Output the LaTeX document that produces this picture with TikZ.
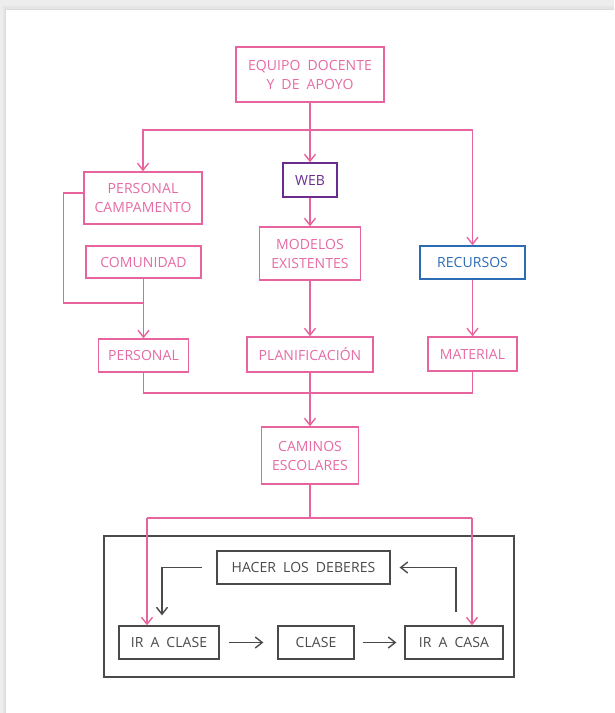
\documentclass[tikz,border=0pt]{standalone}
\usepackage{fontspec}
\setmainfont{Open Sans}[LetterSpace=0.5, WordSpace=1.9]
\usetikzlibrary{arrows.meta}
\definecolor{pk}{HTML}{E8649F}
\definecolor{pktext}{HTML}{E66BA5}
\definecolor{pu}{HTML}{6A2C8E}
\definecolor{bl}{HTML}{2B6CB5}
\definecolor{gr}{HTML}{4A4A4A}
\begin{document}
\begin{tikzpicture}[x=1pt,y=-1pt,
  every node/.style={inner sep=0pt, align=center, font=\fontsize{14}{19}\selectfont},
  pbox/.style={draw=pk, line width=1.4pt, text=pktext},
  wbox/.style={draw=pu, line width=1.4pt, text=pu},
  bbox/.style={draw=bl, line width=1.4pt, text=bl},
  gbox/.style={draw=gr, line width=1.3pt, text=gr},
  pline/.style={draw=pk, line width=1.4pt},
  parr/.style={pline, -{Straight Barb[length=7pt,width=11pt]}},
  garr/.style={draw=gr, line width=1.4pt, -{Straight Barb[length=7pt,width=11pt]}}
]
% background
\useasboundingbox (0,0) rectangle (614,713);
\fill[black!7] (0,0) rectangle (614,713);
\fill[black!10] (3,6) rectangle (614,713);
\fill[black!14] (5,9) rectangle (614,713);
\fill[white] (6,10) rectangle (614,713);

% nodes
\node[pbox, minimum width=148pt, minimum height=55pt] (eq) at (310,74.5) {EQUIPO DOCENTE\\Y DE APOYO};
\node[pbox, minimum width=118pt, minimum height=52pt] (pc) at (143,198) {PERSONAL\\CAMPAMENTO};
\node[pbox, minimum width=115pt, minimum height=32pt] (com) at (143.5,262) {COMUNIDAD};
\node[pbox, minimum width=90pt, minimum height=33pt] (per) at (143.5,355.5) {PERSONAL};
\node[wbox, minimum width=54pt, minimum height=34pt] (web) at (310,180) {WEB};
\node[pbox, minimum width=101pt, minimum height=53pt] (mod) at (310,253.5) {MODELOS\\EXISTENTES};
\node[pbox, minimum width=126pt, minimum height=35pt] (pla) at (310,354.5) {PLANIFICACIÓN};
\node[bbox, minimum width=105pt, minimum height=33pt] (rec) at (472.5,262.5) {RECURSOS};
\node[pbox, minimum width=89pt, minimum height=34pt] (mat) at (472.5,354) {MATERIAL};
\node[pbox, minimum width=97pt, minimum height=57pt] (cam) at (310,455.5) {CAMINOS\\ESCOLARES};

\draw[gr, line width=1.2pt] (104,536) rectangle (514,677);
\node[gbox, minimum width=173pt, minimum height=33pt] (hac) at (303.5,567.5) {HACER LOS DEBERES};
\node[gbox, minimum width=100pt, minimum height=33pt] (irc) at (169,642.5) {IR A CLASE};
\node[gbox, minimum width=76pt, minimum height=33pt] (cla) at (316,642.5) {CLASE};
\node[gbox, minimum width=98pt, minimum height=33pt] (ica) at (454,642.5) {IR A CASA};

% junctions
\coordinate (j1) at (310,130);
\coordinate (j2) at (143.5,303);
\coordinate (j3) at (310,393);
\coordinate (j4) at (310,518);
\coordinate (jl) at (147,518);
\coordinate (jr) at (472,518);

% pink connectors
\draw[pline] (eq.south) -- (j1);
\draw[parr] (j1) -| (pc.north);
\draw[parr] (j1) -- (web.north);
\draw[parr] (j1) -| (rec.north);
\draw[parr] (web.south) -- (mod.north);
\draw[parr] (mod.south) -- (pla.north);
\draw[parr] (rec.south) -- (mat.north);
\draw[pline] ([yshift=5pt]pc.west) -- ++(-20,0) |- (j2);
\draw[parr] (com.south) -- (per.north);
\draw[pline] (per.south) |- (j3);
\draw[pline] (mat.south) |- (j3);
\draw[parr] (pla.south) -- (cam.north);
\draw[pline] (cam.south) -- (j4);
\draw[pline] (jl) -- (jr);
\draw[parr] (jl) -- (jl |- irc.north);
\draw[parr] (jr) -- (jr |- ica.north);

% gray connectors
\draw[garr, shorten <=9pt, shorten >=14pt] (irc.east) -- (cla.west);
\draw[garr, shorten <=8pt, shorten >=8pt] (cla.east) -- (ica.west);
\draw[garr] ([xshift=-14pt]hac.west) -| ([xshift=-7pt,yshift=10pt]irc.north);
\draw[garr] ([xshift=2pt,yshift=13pt]ica.north) |- ([xshift=9pt]hac.east);
\end{tikzpicture}
\end{document}
